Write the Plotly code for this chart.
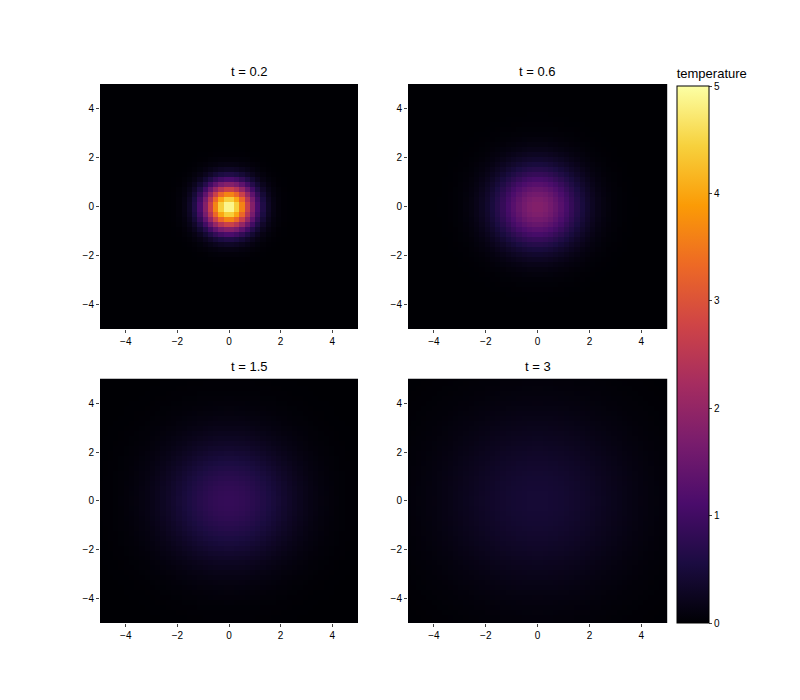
import numpy as np
import plotly.graph_objects as go

# === Data ===
times = ["0.2", "0.6", "1.5", "3"]
peak_temp = [5.0, 1.8, 0.85, 0.45]
spread = [0.65, 1.1, 1.7, 2.4]         # gaussian width of each snapshot
grid = np.linspace(-5, 5, 50)

xx, yy = np.meshgrid(grid, grid)

fig = go.Figure()

dx, dy = -0.01, 0.0114   # compensate page offset
x_domains = [[0.125, 0.4475], [0.51, 0.834], [0.125, 0.4475], [0.51, 0.834]]
y_domains = [[0.53, 0.88], [0.53, 0.88], [0.11, 0.459], [0.11, 0.459]]
x_domains = [[a + dx, b + dx] for a, b in x_domains]
y_domains = [[a + dy, b + dy] for a, b in y_domains]

for i, (t, a, s) in enumerate(zip(times, peak_temp, spread)):
    z = a * np.exp(-(xx ** 2 + yy ** 2) / (2 * s ** 2))
    n = "" if i == 0 else str(i + 1)
    fig.add_heatmap(
        x=grid, y=grid, z=z,
        xaxis="x" + n, yaxis="y" + n,
        colorscale="Inferno", zmin=0, zmax=5,
        showscale=(i == 0),
        colorbar=dict(
            title=dict(text="temperature", side="top", font=dict(size=13)),
            x=0.824, xanchor="left", y=0.107, yanchor="bottom", len=0.824,
            thickness=32, outlinecolor="black", outlinewidth=1,
            ticks="outside", ticklen=3, tickfont=dict(size=10),
            tickvals=[0, 1, 2, 3, 4, 5],
        ),
    )
    ax = dict(domain=x_domains[i], range=[-5, 5], tickvals=[-4, -2, 0, 2, 4],
              showgrid=False, zeroline=False, ticks="outside", ticklen=3,
              tickfont=dict(size=10), anchor="y" + n)
    ay = dict(domain=y_domains[i], range=[-5, 5], tickvals=[-4, -2, 0, 2, 4],
              showgrid=False, zeroline=False, ticks="outside", ticklen=3,
              tickfont=dict(size=10), anchor="x" + n)
    fig.update_layout({"xaxis" + n: ax, "yaxis" + n: ay})
    fig.add_annotation(
        x=sum(x_domains[i]) / 2, y=y_domains[i][1], xref="paper", yref="paper",
        text=f"t = {t}", showarrow=False, yanchor="bottom", yshift=3,
        font=dict(size=13),
    )

fig.update_layout(
    width=800, height=700,
    margin=dict(l=0, r=0, t=0, b=0),
    plot_bgcolor="white", paper_bgcolor="white",
    font=dict(family="Liberation Sans, Arial", color="black"),
)

fig.write_html("out.html")
